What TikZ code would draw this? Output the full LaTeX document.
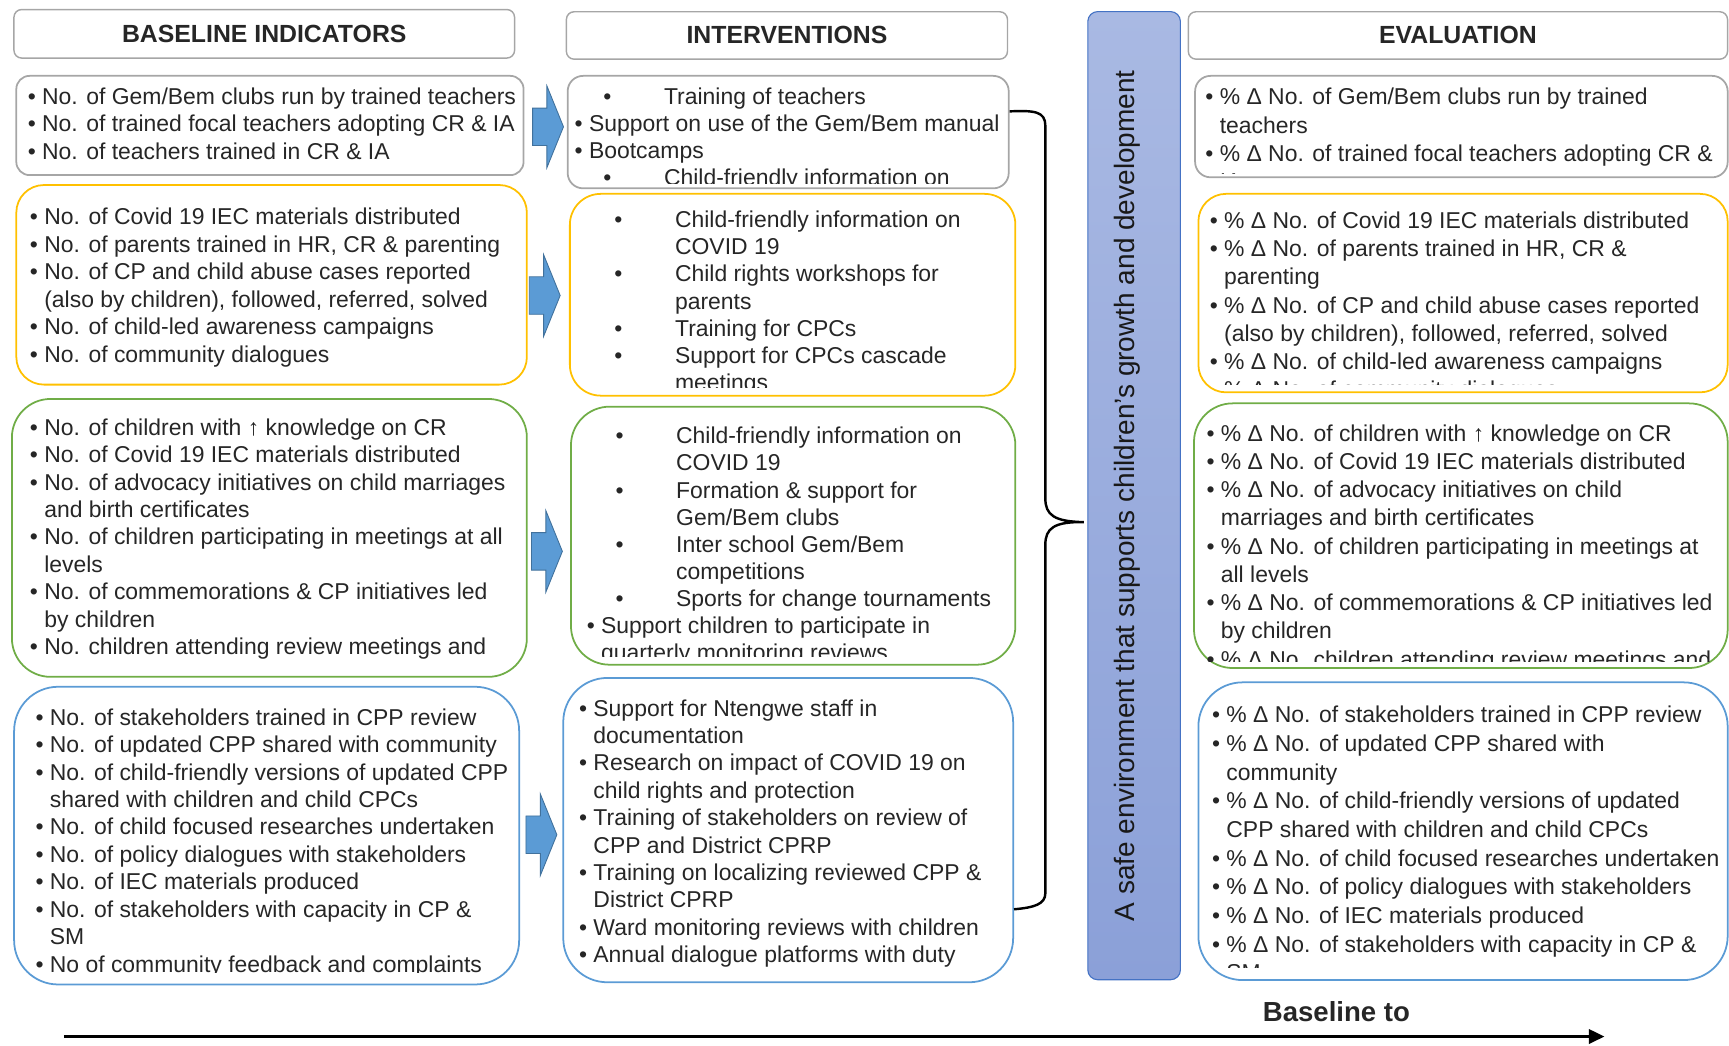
\documentclass[tikz,border=0pt]{standalone}
\usepackage{fontspec}
\setmainfont{Liberation Sans}
\usetikzlibrary{calc,arrows.meta}

\definecolor{greyline}{HTML}{A6A6A6}
\definecolor{gold}{HTML}{FFC000}
\definecolor{leaf}{HTML}{70AD47}
\definecolor{sky}{HTML}{5B9BD5}
\definecolor{skydark}{HTML}{41719C}
\definecolor{bartop}{HTML}{A9B9E3}
\definecolor{barbot}{HTML}{8BA0D8}
\definecolor{barline}{HTML}{4472C4}

% bullet lines
\newcommand{\itm}[1]{\strut\makebox[13pt][l]{\textbullet}#1}
\newcommand{\cnt}[1]{\strut\hspace*{13pt}#1}
\newcommand{\itmw}[1]{\strut\hspace*{26pt}\makebox[55pt][l]{\textbullet}#1}
\newcommand{\cntw}[1]{\strut\hspace*{81pt}#1}

\begin{document}
\begin{tikzpicture}[x=1pt, y=-1pt,
    hdr/.style={draw=greyline, line width=1.3pt, rounded corners=7pt, anchor=north west,
      inner sep=0pt, text=black!85, font=\fontsize{22.5}{27}\selectfont\bfseries},
    box/.style={draw=#1, line width=1.6pt, anchor=north west, inner sep=0pt},
    txt/.style={anchor=north west, inner sep=0pt, align=left, text=black!85,
      font=\fontsize{20.8}{#1}\selectfont},
    blockarr/.pic={\draw[fill=sky, draw=skydark, line width=0.8pt]
      (0,-17) -- (13,-17) -- (13,-37) -- (28,0) -- (13,37) -- (13,17) -- (0,17) -- cycle;}]
    \useasboundingbox (0,0) rectangle (1568,948);

    % Column headers
    \node[hdr, minimum width=454pt, minimum height=44pt] (h1) at (12,8) {BASELINE INDICATORS};
    \node[hdr, minimum width=400pt, minimum height=43pt] (h2) at (513,10) {INTERVENTIONS};
    \node[hdr, minimum width=489pt, minimum height=43pt] (h3) at (1077,10) {EVALUATION};

    % Goal bar
    \node[draw=barline, line width=1pt, top color=bartop, bottom color=barbot, rounded corners=9pt,
      anchor=north west, inner sep=0pt, minimum width=84pt, minimum height=878pt] (bar) at (986,10) {};
    \node[rotate=90, text=black!90, font=\fontsize{25.4}{30}\selectfont] (bartxt) at ($(bar.center)+(-6,0)$)
      {A safe environment that supports children’s growth and development};

    % Row 1
    \node[box=greyline, rounded corners=12pt, minimum width=460pt, minimum height=90pt] (b1) at (14,68) {};
    \node[box=greyline, rounded corners=14pt, minimum width=400pt, minimum height=102pt] (i1) at (514,68) {};
    \node[box=greyline, rounded corners=14pt, minimum width=483pt, minimum height=92pt] (e1) at (1083,68) {};
    \node[txt=25] (b1t) at (25,77) {\itm{No. of Gem/Bem clubs run by trained teachers}\\
      \itm{No. of trained focal teachers adopting CR \& IA}\\
      \itm{No. of teachers trained in CR \& IA}};
    \begin{scope}
      \clip (i1.north west) rectangle ($(i1.south east)+(0,-5)$);
      \node[txt=24.6] (i1t) at (521,77) {\itmw{Training of teachers}\\
        \itm{Support on use of the Gem/Bem manual}\\
        \itm{Bootcamps}\\
        \itmw{Child-friendly information on}};
    \end{scope}
    \begin{scope}
      \clip (e1.north west) rectangle ($(e1.south east)+(0,-4)$);
      \node[txt=25.6] (e1t) at (1093,77) {\itm{\% Δ No. of Gem/Bem clubs run by trained}\\
        \cnt{teachers}\\
        \itm{\% Δ No. of trained focal teachers adopting CR \&}\\
        \cnt{IA}};
    \end{scope}
    \pic (arr1) at (483,115) {blockarr};

    % Row 2
    \node[box=gold, rounded corners=25pt, minimum width=463pt, minimum height=181pt] (b2) at (14,167) {};
    \node[box=gold, rounded corners=28pt, minimum width=404pt, minimum height=183pt] (i2) at (516,175) {};
    \node[box=gold, rounded corners=25pt, minimum width=480pt, minimum height=180pt] (e2) at (1086,175) {};
    \node[txt=25] (b2t) at (27,186) {\itm{No. of Covid 19 IEC materials distributed}\\
      \itm{No. of parents trained in HR, CR \& parenting}\\
      \itm{No. of CP and child abuse cases reported}\\
      \cnt{(also by children), followed, referred, solved}\\
      \itm{No. of child-led awareness campaigns}\\
      \itm{No. of community dialogues}};
    \begin{scope}
      \clip (i2.north west) rectangle ($(i2.south east)+(0,-8)$);
      \node[txt=24.6] (i2t) at (531,189) {\itmw{Child-friendly information on}\\
        \cntw{COVID 19}\\
        \itmw{Child rights workshops for}\\
        \cntw{parents}\\
        \itmw{Training for CPCs}\\
        \itmw{Support for CPCs cascade}\\
        \cntw{meetings}};
    \end{scope}
    \begin{scope}
      \clip (e2.north west) rectangle ($(e2.south east)+(0,-8)$);
      \node[txt=25.6] (e2t) at (1097,189) {\itm{\% Δ No. of Covid 19 IEC materials distributed}\\
        \itm{\% Δ No. of parents trained in HR, CR \&}\\
        \cnt{parenting}\\
        \itm{\% Δ No. of CP and child abuse cases reported}\\
        \cnt{(also by children), followed, referred, solved}\\
        \itm{\% Δ No. of child-led awareness campaigns}\\
        \itm{\% Δ No. of community dialogues}};
    \end{scope}
    \pic (arr2) at (480,268) {blockarr};

    % Row 3
    \node[box=leaf, rounded corners=35pt, minimum width=467pt, minimum height=252pt] (b3) at (10,361) {};
    \node[box=leaf, rounded corners=35pt, minimum width=403pt, minimum height=234pt] (i3) at (517,368) {};
    \node[box=leaf, rounded corners=35pt, minimum width=484pt, minimum height=240pt] (e3) at (1082,365) {};
    \node[txt=24.9] (b3t) at (27,377) {\itm{No. of children with ↑ knowledge on CR}\\
      \itm{No. of Covid 19 IEC materials distributed}\\
      \itm{No. of advocacy initiatives on child marriages}\\
      \cnt{and birth certificates}\\
      \itm{No. of children participating in meetings at all}\\
      \cnt{levels}\\
      \itm{No. of commemorations \& CP initiatives led}\\
      \cnt{by children}\\
      \itm{No. children attending review meetings and}};
    \begin{scope}
      \clip (i3.north west) rectangle ($(i3.south east)+(0,-8)$);
      \node[txt=24.6] (i3t) at (532,385) {\itmw{Child-friendly information on}\\
        \cntw{COVID 19}\\
        \itmw{Formation \& support for}\\
        \cntw{Gem/Bem clubs}\\
        \itmw{Inter school Gem/Bem}\\
        \cntw{competitions}\\
        \itmw{Sports for change tournaments}\\
        \itm{Support children to participate in}\\
        \cnt{quarterly monitoring reviews}};
    \end{scope}
    \begin{scope}
      \clip (e3.north west) rectangle ($(e3.south east)+(0,-7)$);
      \node[txt=25.6] (e3t) at (1094,382) {\itm{\% Δ No. of children with ↑ knowledge on CR}\\
        \itm{\% Δ No. of Covid 19 IEC materials distributed}\\
        \itm{\% Δ No. of advocacy initiatives on child}\\
        \cnt{marriages and birth certificates}\\
        \itm{\% Δ No. of children participating in meetings at}\\
        \cnt{all levels}\\
        \itm{\% Δ No. of commemorations \& CP initiatives led}\\
        \cnt{by children}\\
        \itm{\% Δ No. children attending review meetings and}};
    \end{scope}
    \pic (arr3) at (482,500) {blockarr};

    % Row 4
    \node[box=sky, rounded corners=40pt, minimum width=458pt, minimum height=270pt] (b4) at (12,622) {};
    \node[box=sky, rounded corners=40pt, minimum width=408pt, minimum height=276pt] (i4) at (510,614) {};
    \node[box=sky, rounded corners=40pt, minimum width=480pt, minimum height=270pt] (e4) at (1086,618) {};
    \begin{scope}
      \clip (b4.north west) rectangle ($(b4.south east)+(0,-12)$);
      \node[txt=24.9] (b4t) at (32,640) {\itm{No. of stakeholders trained in CPP review}\\
        \itm{No. of updated CPP shared with community}\\
        \itm{No. of child-friendly versions of updated CPP}\\
        \cnt{shared with children and child CPCs}\\
        \itm{No. of child focused researches undertaken}\\
        \itm{No. of policy dialogues with stakeholders}\\
        \itm{No. of IEC materials produced}\\
        \itm{No. of stakeholders with capacity in CP \&}\\
        \cnt{SM}\\
        \itm{No of community feedback and complaints}};
    \end{scope}
    \node[txt=24.8] (i4t) at (525,632) {\itm{Support for Ntengwe staff in}\\
      \cnt{documentation}\\
      \itm{Research on impact of COVID 19 on}\\
      \cnt{child rights and protection}\\
      \itm{Training of stakeholders on review of}\\
      \cnt{CPP and District CPRP}\\
      \itm{Training on localizing reviewed CPP \&}\\
      \cnt{District CPRP}\\
      \itm{Ward monitoring reviews with children}\\
      \itm{Annual dialogue platforms with duty}};
    \begin{scope}
      \clip (e4.north west) rectangle ($(e4.south east)+(0,-12)$);
      \node[txt=26] (e4t) at (1099,637) {\itm{\% Δ No. of stakeholders trained in CPP review}\\
        \itm{\% Δ No. of updated CPP shared with}\\
        \cnt{community}\\
        \itm{\% Δ No. of child-friendly versions of updated}\\
        \cnt{CPP shared with children and child CPCs}\\
        \itm{\% Δ No. of child focused researches undertaken}\\
        \itm{\% Δ No. of policy dialogues with stakeholders}\\
        \itm{\% Δ No. of IEC materials produced}\\
        \itm{\% Δ No. of stakeholders with capacity in CP \&}\\
        \cnt{SM}};
    \end{scope}
    \pic (arr4) at (477,757) {blockarr};

    % Brace from the interventions to the goal
    \coordinate (bt) at ($(i1.north east)+(0,33)$);
    \coordinate (bb) at ($(i4.south east)+(0,-67)$);
    \coordinate (btip) at ($(bar.west)+(-3,24)$);
    \draw[line width=2.2pt] (bt) .. controls (938,100) and (948,101) .. (948,114) -- (948,452)
      .. controls (948,467) and (956,473) .. (btip)
      .. controls (956,473) and (948,479) .. (948,494) -- (948,810)
      .. controls (948,820) and (938,823) .. (bb);

    % Time line
    \coordinate (tl) at (58,940);
    \coordinate (tr) at (1455,940);
    \draw[line width=2.2pt, -{Triangle[length=14pt,width=13pt]}] (tl) -- (tr);
    \node[text=black!85, font=\fontsize{25}{30}\selectfont\bfseries] (btxt) at (1212,917) {Baseline to};
\end{tikzpicture}
\end{document}
